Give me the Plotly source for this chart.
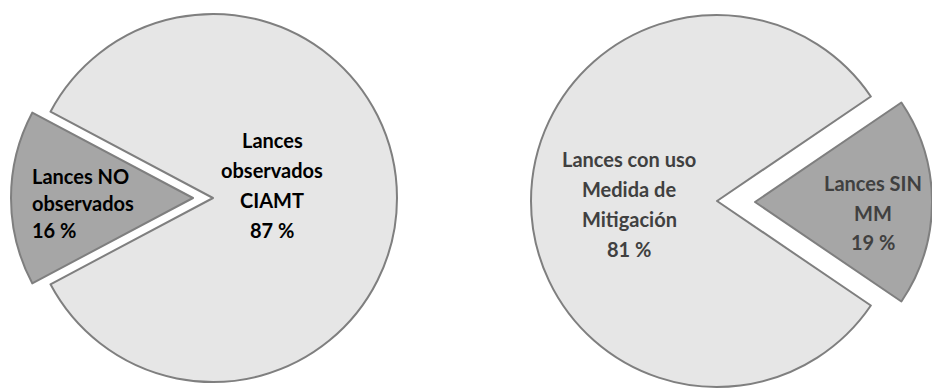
import plotly.graph_objects as go

# --- data -------------------------------------------------------------
left_labels = ["Lances NO observados", "Lances observados CIAMT"]
left_values = [16, 87]
left_lines = [["Lances NO", "observados"], ["Lances", "observados", "CIAMT"]]

right_labels = ["Lances SIN MM", "Lances con uso Medida de Mitigación"]
right_values = [19, 81]
right_lines = [["Lances SIN", "MM"], ["Lances con uso", "Medida de", "Mitigación"]]

# --- styling ----------------------------------------------------------
W, H = 932, 389
LIGHT = "#E6E6E6"
DARK = "#A6A6A6"
EDGE = "#7F7F7F"
CLEAR = "rgba(0,0,0,0)"
FONT = "Lato"


def dom(cx, cy, r):
    """Pie domain (paper units) for a circle centred at pixel (cx, cy) with radius r."""
    return dict(x=[(cx - r) / W, (cx + r) / W],
                y=[(H - cy - r) / H, (H - cy + r) / H])


def rotation_for(values, centre_deg):
    # first slice (the small one) is centred on centre_deg, clockwise from 12 o'clock
    return centre_deg - 180.0 * values[0] / sum(values)


fig = go.Figure()


def add_pie(labels, values, centre_deg, small_geom, big_geom):
    rot = rotation_for(values, centre_deg)
    # large slice
    fig.add_trace(go.Pie(
        labels=labels, values=values, sort=False, direction="clockwise",
        rotation=rot, domain=dom(*big_geom), textinfo="none", hoverinfo="label+value",
        marker=dict(colors=[CLEAR, LIGHT], line=dict(color=EDGE, width=[0, 2])),
        showlegend=False,
    ))
    # exploded small slice
    fig.add_trace(go.Pie(
        labels=labels, values=values, sort=False, direction="clockwise",
        rotation=rot, domain=dom(*small_geom), textinfo="none", hoverinfo="label+value",
        marker=dict(colors=[DARK, CLEAR], line=dict(color=EDGE, width=[2, 0])),
        showlegend=False,
    ))


add_pie(left_labels, left_values, 270, small_geom=(193, 198, 182), big_geom=(213, 198, 184))
add_pie(right_labels, right_values, 90, small_geom=(755, 202, 177), big_geom=(717, 201, 186))


def add_label(lines, value, x, y0, pitch, color, anchor="center"):
    texts = list(lines) + [f"{value} %"]
    for i, t in enumerate(texts):
        y = y0 + i * pitch
        fig.add_annotation(
            x=x / W, y=(H - y) / H, xref="paper", yref="paper",
            text=f"<b>{t}</b>", showarrow=False,
            xanchor=anchor, yanchor="middle", align=anchor,
            font=dict(family=FONT, size=20, color=color),
        )


add_label(left_lines[1], left_values[1], 272, 140, 30, "#000000")
add_label(left_lines[0], left_values[0], 30, 176, 27, "#000000", anchor="left")
add_label(right_lines[1], right_values[1], 629, 159, 30, "#404040")
add_label(right_lines[0], right_values[0], 873, 183, 29.5, "#404040")

fig.update_layout(
    width=W, height=H,
    margin=dict(l=0, r=0, t=0, b=0),
    paper_bgcolor="white", plot_bgcolor="white",
    showlegend=False,
)

fig.write_html("out.html")
